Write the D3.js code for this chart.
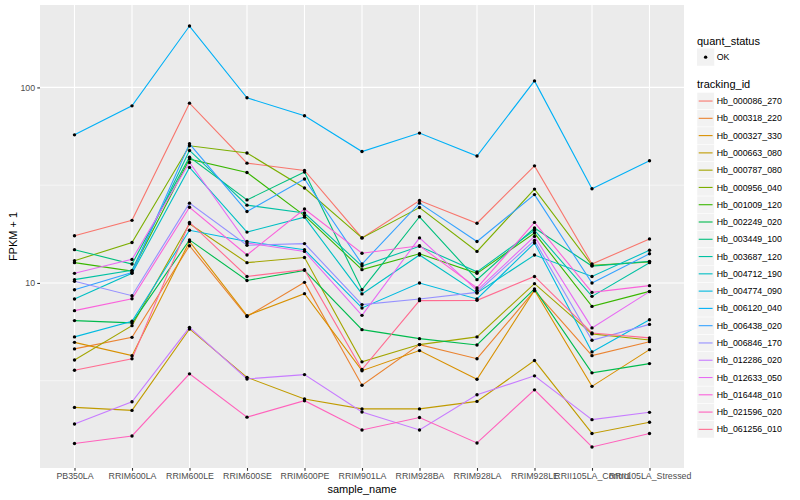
<!DOCTYPE html>
<html>
<head>
<meta charset="utf-8">
<script src="https://cdn.jsdelivr.net/npm/d3@7"></script>
<style>
body { margin: 0; background: #fff; }
text { font-family: "Liberation Sans", Arial, Helvetica, sans-serif; }
</style>
</head>
<body>
<div id="chart"></div>
<script>
const width = 800;
const height = 500;

const margin = {
    left: 40,
    right: 116,
    top: 5,
    bottom: 32
}

const samples = ["PB350LA", "RRIM600LA", "RRIM600LE", "RRIM600SE", "RRIM600PE", "RRIM901LA",
    "RRIM928BA", "RRIM928LA", "RRIM928LE", "RRII105LA_Control", "RRII105LA_Stressed"];

const trackingIds = ["Hb_000086_270", "Hb_000318_220", "Hb_000327_330", "Hb_000663_080",
    "Hb_000787_080", "Hb_000956_040", "Hb_001009_120", "Hb_002249_020", "Hb_003449_100",
    "Hb_003687_120", "Hb_004712_190", "Hb_004774_090", "Hb_006120_040", "Hb_006438_020",
    "Hb_006846_170", "Hb_012286_020", "Hb_012633_050", "Hb_016448_010", "Hb_021596_020",
    "Hb_061256_010"];

// FPKM + 1, one array per gene, in sample order
const hb_000086_270 = [17.45, 20.9, 83.1, 41.0, 37.6, 17.0, 26.4, 20.2, 39.7, 12.5, 16.8];
const hb_000318_220 = [4.60, 5.27, 15.5, 6.73, 10.07, 3.00, 4.84, 4.10, 9.13, 4.25, 5.01];
const hb_000327_330 = [4.97, 4.25, 16.3, 6.81, 8.82, 3.56, 4.51, 3.22, 9.17, 2.96, 4.56];
const hb_000663_080 = [2.31, 2.23, 5.82, 3.29, 2.55, 2.27, 2.27, 2.48, 4.01, 1.70, 1.94];
const hb_000787_080 = [4.04, 6.05, 20.1, 12.7, 13.5, 3.95, 4.84, 5.30, 9.92, 5.49, 5.11];
const hb_000956_040 = [13.0, 16.1, 50.3, 46.2, 30.6, 17.0, 24.3, 14.5, 30.2, 12.3, 12.8];
const hb_001009_120 = [12.7, 11.5, 43.0, 36.7, 22.1, 11.7, 14.1, 11.2, 18.0, 7.59, 9.06];
const hb_002249_020 = [6.42, 6.25, 16.6, 10.3, 11.6, 5.77, 5.19, 4.82, 9.32, 3.47, 3.87];
const hb_003449_100 = [14.8, 12.5, 44.0, 26.6, 36.9, 9.24, 21.8, 10.4, 19.1, 12.2, 12.9];
const hb_003687_120 = [10.4, 11.6, 47.6, 25.0, 22.8, 12.2, 15.4, 11.4, 18.6, 8.54, 12.7];
const hb_004712_190 = [8.28, 11.2, 39.0, 18.2, 21.7, 8.79, 13.9, 8.89, 13.9, 10.8, 14.7];
const hb_004774_090 = [5.30, 6.37, 18.6, 16.3, 14.8, 7.45, 10.0, 8.28, 16.0, 4.44, 6.49];
const hb_006120_040 = [57.2, 80.5, 206, 88.5, 71.6, 47.0, 58.4, 44.6, 108, 30.3, 42.2];
const hb_006438_020 = [9.24, 11.3, 51.5, 23.2, 34.0, 12.5, 25.6, 16.3, 28.3, 10.0, 14.1];
const hb_006846_170 = [10.2, 8.61, 25.6, 15.6, 15.9, 7.75, 8.28, 8.95, 16.5, 5.09, 6.14];
const hb_012286_020 = [1.90, 2.47, 5.93, 3.23, 3.40, 2.19, 1.77, 2.68, 3.35, 2.00, 2.18];
const hb_012633_050 = [11.2, 13.2, 41.3, 16.0, 14.5, 6.83, 17.0, 9.17, 17.3, 5.89, 9.03];
const hb_016448_010 = [7.22, 8.31, 24.4, 13.9, 23.9, 14.2, 15.5, 9.43, 20.4, 8.95, 9.69];
const hb_021596_020 = [1.51, 1.65, 3.43, 2.06, 2.50, 1.77, 2.05, 1.52, 2.84, 1.45, 1.70];
const hb_061256_010 = [3.58, 4.10, 20.4, 10.8, 11.7, 3.61, 8.12, 8.15, 10.8, 5.55, 5.24];

const fpkm = [hb_000086_270, hb_000318_220, hb_000327_330, hb_000663_080, hb_000787_080,
    hb_000956_040, hb_001009_120, hb_002249_020, hb_003449_100, hb_003687_120,
    hb_004712_190, hb_004774_090, hb_006120_040, hb_006438_020, hb_006846_170,
    hb_012286_020, hb_012633_050, hb_016448_010, hb_021596_020, hb_061256_010];

const yTicks = [10, 100];

// ggplot default hue palette for 20 levels
const palette = ["#F8766D", "#EA8331", "#D89000", "#C09B00", "#A3A500", "#7CAE00", "#39B600",
    "#00BB4E", "#00BF7D", "#00C1A3", "#00BFC4", "#00BAE0", "#00B0F6", "#35A2FF", "#9590FF",
    "#C77CFF", "#E76BF3", "#FA62DB", "#FF62BC", "#FF6C91"];

const series = trackingIds.map((id, i) => ({
    id: id,
    points: samples.map((s, j) => ({sample: s, value: fpkm[i][j]}))
}));

let svg = d3.select("#chart")
    .append("svg")
    .attr("width", width)
    .attr("height", height);

svg.append("rect").attr("width", width).attr("height", height).attr("fill", "#fff");

const x0 = margin.left, x1 = width - margin.right;
const y0 = margin.top, y1 = height - margin.bottom;

let x = d3.scalePoint()
    .domain(samples)
    .range([x0, x1])
    .padding(0.6);

// log scale with 5% expansion in log space, like ggplot
let ext = d3.extent(fpkm.flat()).map(Math.log10);
let pad = (ext[1] - ext[0]) * 0.05;
let y = d3.scaleLog()
    .domain([Math.pow(10, ext[0] - pad), Math.pow(10, ext[1] + pad)])
    .range([y1, y0]);

let color = d3.scaleOrdinal(palette).domain(trackingIds);

svg.append("rect")
    .attr("x", x0).attr("y", y0)
    .attr("width", x1 - x0).attr("height", y1 - y0)
    .attr("fill", "#EBEBEB");

// minor grid: halfway between decades
let minor = [];
for (let e = -1; e < 4; e++) {
    let v = Math.pow(10, e + 0.5);
    if (v > y.domain()[0] && v < y.domain()[1]) minor.push(v);
}
svg.selectAll(".minor")
    .data(minor)
    .join("line")
    .attr("x1", x0).attr("x2", x1)
    .attr("y1", d => y(d)).attr("y2", d => y(d))
    .attr("stroke", "#fff")
    .attr("stroke-width", 0.55);

svg.selectAll(".ymajor")
    .data(yTicks)
    .join("line")
    .attr("x1", x0).attr("x2", x1)
    .attr("y1", d => y(d)).attr("y2", d => y(d))
    .attr("stroke", "#fff")
    .attr("stroke-width", 1.1);

svg.selectAll(".xmajor")
    .data(samples)
    .join("line")
    .attr("x1", d => x(d)).attr("x2", d => x(d))
    .attr("y1", y0).attr("y2", y1)
    .attr("stroke", "#fff")
    .attr("stroke-width", 1.1);

let line = d3.line()
    .x(d => x(d.sample))
    .y(d => y(d.value));

svg.selectAll(".gene")
    .data(series)
    .join("path")
    .attr("class", "gene")
    .attr("fill", "none")
    .attr("stroke", d => color(d.id))
    .attr("stroke-width", 1.1)
    .attr("d", d => line(d.points));

svg.selectAll(".pt")
    .data(series.flatMap(d => d.points))
    .join("circle")
    .attr("class", "pt")
    .attr("cx", d => x(d.sample))
    .attr("cy", d => y(d.value))
    .attr("r", 1.7)
    .attr("fill", "#000");

// axes
let yAxis = svg.append("g")
    .attr("transform", `translate(${x0},0)`)
    .call(d3.axisLeft(y).tickValues(yTicks).tickFormat(d3.format("d")).tickSize(2.75).tickPadding(2.2));

let xAxis = svg.append("g")
    .attr("transform", `translate(0,${y1})`)
    .call(d3.axisBottom(x).tickSize(2.75).tickPadding(2.2));

[xAxis, yAxis].forEach(g => {
    g.select(".domain").remove();
    g.selectAll(".tick line").attr("stroke", "#333").attr("stroke-width", 1.1);
    g.selectAll(".tick text")
        .attr("fill", "#4D4D4D")
        .style("font-size", "8.8px")
        .style("font-family", '"Liberation Sans", Arial, sans-serif');
});

svg.append("text")
    .attr("x", (x0 + x1) / 2)
    .attr("y", 492.5)
    .attr("text-anchor", "middle")
    .style("font-size", "11px")
    .text("sample_name");

svg.append("text")
    .attr("transform", `translate(16.5,${(y0 + y1) / 2}) rotate(-90)`)
    .attr("text-anchor", "middle")
    .style("font-size", "11px")
    .text("FPKM + 1");

// legends
const lx = 697, keyW = 17.28;

let leg = svg.append("g");

leg.append("text").attr("x", lx).attr("y", 45).style("font-size", "11px").text("quant_status");
leg.append("rect")
    .attr("x", lx).attr("y", 48.5)
    .attr("width", keyW).attr("height", keyW)
    .attr("fill", "#F2F2F2");
leg.append("circle")
    .attr("cx", lx + keyW / 2).attr("cy", 48.5 + keyW / 2)
    .attr("r", 1.7).attr("fill", "#000");
leg.append("text")
    .attr("x", lx + keyW + 2.5).attr("y", 48.5 + keyW / 2 + 3.1)
    .style("font-size", "8.8px")
    .text("OK");

leg.append("text").attr("x", lx).attr("y", 88).style("font-size", "11px").text("tracking_id");

let keys = leg.selectAll(".key")
    .data(trackingIds)
    .join("g")
    .attr("class", "key")
    .attr("transform", (d, i) => `translate(${lx},${92.4 + i * keyW})`);

keys.append("rect")
    .attr("width", keyW).attr("height", keyW)
    .attr("fill", "#F2F2F2")
    .attr("stroke", "#fff")
    .attr("stroke-width", 0.5);

keys.append("line")
    .attr("x1", 1.7).attr("x2", keyW - 1.7)
    .attr("y1", keyW / 2).attr("y2", keyW / 2)
    .attr("stroke", d => color(d))
    .attr("stroke-width", 1.1);

keys.append("text")
    .attr("x", keyW + 2.5)
    .attr("y", keyW / 2 + 3.1)
    .style("font-size", "8.8px")
    .text(d => d);
</script>
</body>
</html>
